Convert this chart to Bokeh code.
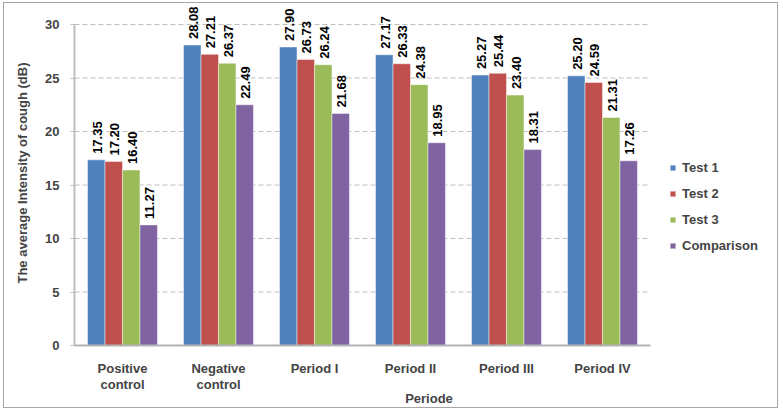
import math
from bokeh.plotting import figure
from bokeh.models import (ColumnDataSource, Range1d, FixedTicker, LinearAxis,
                          LabelSet, Legend, LegendItem, InlineStyleSheet)
from bokeh.core.properties import value
from bokeh.transform import dodge
from bokeh.embed import file_html
from bokeh.resources import INLINE

# ---- data ----
categories = ["Positive control", "Negative control", "Period I", "Period II", "Period III", "Period IV"]
cat_line1 = ["Positive", "Negative", "Period I", "Period II", "Period III", "Period IV"]
cat_line2 = ["control", "control", "", "", "", ""]
series_names = ["Test 1", "Test 2", "Test 3", "Comparison"]
test1 = [17.35, 28.08, 27.90, 27.17, 25.27, 25.20]
test2 = [17.20, 27.21, 26.73, 26.33, 25.44, 24.59]
test3 = [16.40, 26.37, 26.24, 24.38, 23.40, 21.31]
comparison = [11.27, 22.49, 21.68, 18.95, 18.31, 17.26]
y_ticks = [0, 5, 10, 15, 20, 25, 30]

colors = ["#4F81BD", "#C0504D", "#9BBB59", "#8064A2"]
series = [test1, test2, test3, comparison]
FONT = "Liberation Sans"
n = len(categories)
xpos = list(range(n))

bar_w = 0.182
offsets = [-1.5 * bar_w, -0.5 * bar_w, 0.5 * bar_w, 1.5 * bar_w]

W, H = 783, 413
left_b, bottom_b = 74, 68
x_start = -0.5
x_end = x_start + (W - left_b) / 96.0
y_end = (H - bottom_b) / 10.7

p = figure(x_range=Range1d(x_start, x_end), y_range=Range1d(0, y_end),
           width=W, height=H, output_backend="svg", toolbar_location=None,
           min_border_left=left_b, min_border_right=0, min_border_top=0,
           min_border_bottom=bottom_b)
p.outline_line_color = None
p.background_fill_color = "white"
p.border_fill_color = "white"
p.stylesheets = [InlineStyleSheet(css=""":host { position: relative; }
:host::after { content: ''; position: absolute; left: 3px; top: 2px; width: 775px; height: 406px;
  border: 1px solid #A6A6A6; box-sizing: border-box; pointer-events: none; z-index: 1000; }""")]
p.xgrid.visible = False
p.ygrid.visible = False

# dashed horizontal gridlines across the category area
gy = y_ticks[1:]
p.segment(x0=[x_start] * len(gy), x1=[n - 0.5] * len(gy), y0=gy, y1=gy,
          line_color="#BFBFBF", line_width=1, line_dash="5 3")

items = []
for name, vals, col, off in zip(series_names, series, colors, offsets):
    src = ColumnDataSource(dict(x=xpos, y=vals, txt=["%.2f" % v for v in vals]))
    r = p.vbar(x=dodge("x", off), top="y", width=bar_w, source=src,
               fill_color=col, line_color="white", line_alpha=0.45, line_width=1)
    items.append(LegendItem(label=name, renderers=[r]))
    lbl = LabelSet(x=dodge("x", off), y="y", text="txt", source=src,
                   angle=math.pi / 2, text_align="left", text_baseline="middle",
                   x_offset=1, y_offset=6, text_font=value(FONT),
                   text_font_size="13px", text_font_style="bold", text_color="black")
    p.add_layout(lbl)

legend = Legend(items=items, location=(595, 90), orientation="vertical",
                glyph_width=7, glyph_height=7, label_standoff=6, label_height=20,
                spacing=6, padding=0, margin=0, border_line_color=None,
                background_fill_alpha=0, label_text_font=FONT,
                label_text_font_size="13px", label_text_font_style="bold")
p.add_layout(legend, "center")

# y axis
p.yaxis.ticker = FixedTicker(ticks=y_ticks)
p.yaxis.bounds = (0, 30)
p.yaxis.axis_line_color = "#BFBFBF"
p.yaxis.axis_line_width = 2
p.yaxis.major_tick_line_color = "#BFBFBF"
p.yaxis.major_tick_line_width = 1
p.yaxis.major_tick_out = 4
p.yaxis.major_tick_in = 0
p.yaxis.minor_tick_line_color = None
p.yaxis.major_label_text_font = FONT
p.yaxis.major_label_text_font_style = "bold"
p.yaxis.major_label_text_font_size = "13px"
p.yaxis.major_label_standoff = 11
p.yaxis.axis_label = "The average Intensity of cough (dB)"
p.yaxis.axis_label_text_font = FONT
p.yaxis.axis_label_text_font_style = "bold"
p.yaxis.axis_label_text_font_size = "13px"
p.yaxis.axis_label_standoff = 12

# x axis (first line of category labels)
ax1 = p.xaxis[0]
ax1.ticker = FixedTicker(ticks=xpos)
ax1.bounds = (x_start, n - 0.5)
ax1.axis_line_color = "#B3B3B3"
ax1.axis_line_width = 2
ax1.major_tick_line_color = None
ax1.minor_tick_line_color = None
ax1.major_tick_out = 0
ax1.major_tick_in = 0
ax1.major_label_overrides = {i: t for i, t in zip(xpos, cat_line1)}
ax1.major_label_text_font = FONT
ax1.major_label_text_font_style = "bold"
ax1.major_label_text_font_size = "13px"
ax1.major_label_standoff = 15

# second line of category labels + axis title
ax2 = LinearAxis(ticker=FixedTicker(ticks=xpos))
ax2.axis_line_color = None
ax2.major_tick_line_color = None
ax2.minor_tick_line_color = None
ax2.major_tick_out = 0
ax2.major_tick_in = 0
ax2.major_label_overrides = {i: t for i, t in zip(xpos, cat_line2)}
ax2.major_label_text_font = FONT
ax2.major_label_text_font_style = "bold"
ax2.major_label_text_font_size = "13px"
ax2.major_label_standoff = -2
ax2.axis_label = "Periode"
ax2.axis_label_text_font = FONT
ax2.axis_label_text_font_style = "bold"
ax2.axis_label_text_font_size = "13px"
ax2.axis_label_standoff = -4
ax2.axis_label_text_align = "center"
p.add_layout(ax2, "below")

open("out.html", "w").write(file_html(p, INLINE))
